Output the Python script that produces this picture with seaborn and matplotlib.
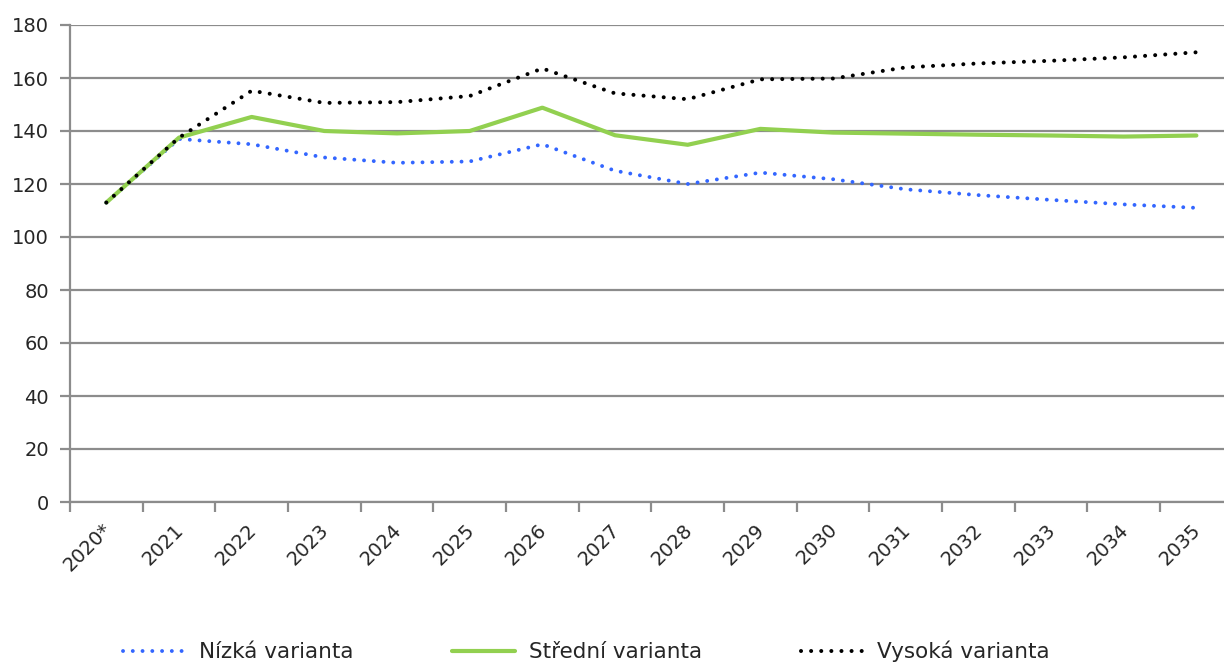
#!/usr/bin/env python3
import numpy as np
import pandas as pd
import matplotlib as mpl
mpl.use('Agg')
import matplotlib.pyplot as plt
from matplotlib.transforms import ScaledTranslation
import seaborn as sns

# ------------------------------------------------------------------
# Data
# ------------------------------------------------------------------
years = ['2020*', '2021', '2022', '2023', '2024', '2025', '2026', '2027',
         '2028', '2029', '2030', '2031', '2032', '2033', '2034', '2035']
nizka = [113.0, 137.0, 135.0, 130.0, 128.0, 128.5, 135.0, 125.0,
         120.0, 124.3, 121.8, 118.0, 115.8, 114.0, 112.3, 111.0]
stredni = [113.0, 137.5, 145.3, 140.0, 139.1, 140.0, 148.8, 138.4,
           134.8, 140.8, 139.4, 139.0, 138.6, 138.3, 137.9, 138.3]
vysoka = [113.0, 137.5, 155.2, 150.6, 150.9, 153.2, 163.6, 154.2,
          152.0, 159.5, 159.8, 164.0, 165.5, 166.5, 167.8, 169.7]

labels = ['Nízká varianta', 'Střední varianta', 'Vysoká varianta']
colors = ['#3366FF', '#92D050', '#000000']

# ------------------------------------------------------------------
# Setup
# ------------------------------------------------------------------
sns.set_style('white')
plt.rcParams['font.family'] = ['DejaVu Sans']
grid_col = '#8C8C8C'

df = pd.DataFrame({'pos': np.arange(len(years)),
                   labels[0]: nizka,
                   labels[1]: stredni,
                   labels[2]: vysoka})

fig = plt.figure(figsize=(12.24, 6.66), dpi=100)
ax = fig.add_axes([70 / 1224, 1 - 502 / 666, 1154 / 1224, 477 / 666])

dotted = (0, (0.01, 2.5))
sns.lineplot(data=df, x='pos', y=labels[0], ax=ax, color=colors[0],
             lw=2.8, linestyle=dotted, label=labels[0],
             dash_capstyle='round', zorder=3)
sns.lineplot(data=df, x='pos', y=labels[1], ax=ax, color=colors[1],
             lw=3.0, label=labels[1], solid_capstyle='round', zorder=4)
sns.lineplot(data=df, x='pos', y=labels[2], ax=ax, color=colors[2],
             lw=2.9, linestyle=dotted, label=labels[2],
             dash_capstyle='round', zorder=5)

# ------------------------------------------------------------------
# Axes styling
# ------------------------------------------------------------------
ax.set_yticks(np.arange(0, 181, 20))
ax.yaxis.grid(True, color=grid_col, lw=1.6)
ax.set_axisbelow(True)
ax.set_xlabel('')
ax.set_ylabel('')

ax.set_xticks(np.arange(-0.5, 16, 1.0))
ax.set_xticklabels([])
ax.set_xticks(np.arange(len(years)), minor=True)
ax.set_xticklabels(years, minor=True, rotation=45, ha='right',
                   rotation_mode='anchor', fontsize=14)
ax.tick_params(axis='x', which='minor', length=0, pad=13)
ax.tick_params(axis='x', which='major', length=7, width=1.6,
               color=grid_col, direction='out', bottom=True)
ax.tick_params(axis='y', length=7, width=1.6, color=grid_col,
               direction='out', left=True, labelsize=14, pad=8)
shift = ScaledTranslation(-5 / 100, 0, fig.dpi_scale_trans)
for lbl in ax.get_xticklabels(minor=True):
    lbl.set_transform(lbl.get_transform() + shift)

ax.set_xlim(-0.5, 15.38)
ax.set_ylim(0, 180)

for s in ['top', 'right']:
    ax.spines[s].set_visible(False)
for s in ['left', 'bottom']:
    ax.spines[s].set_color(grid_col)
    ax.spines[s].set_linewidth(1.6)

ax.get_legend().remove()
handles, lbls = ax.get_legend_handles_labels()
fig.legend(handles, lbls, loc='center', ncol=3, frameon=False,
           bbox_to_anchor=(0.479, 0.022), fontsize=15.5,
           handlelength=2.9, columnspacing=4.6, handletextpad=0.65,
           borderpad=0.1)

fig.savefig('out.png', dpi=100)
